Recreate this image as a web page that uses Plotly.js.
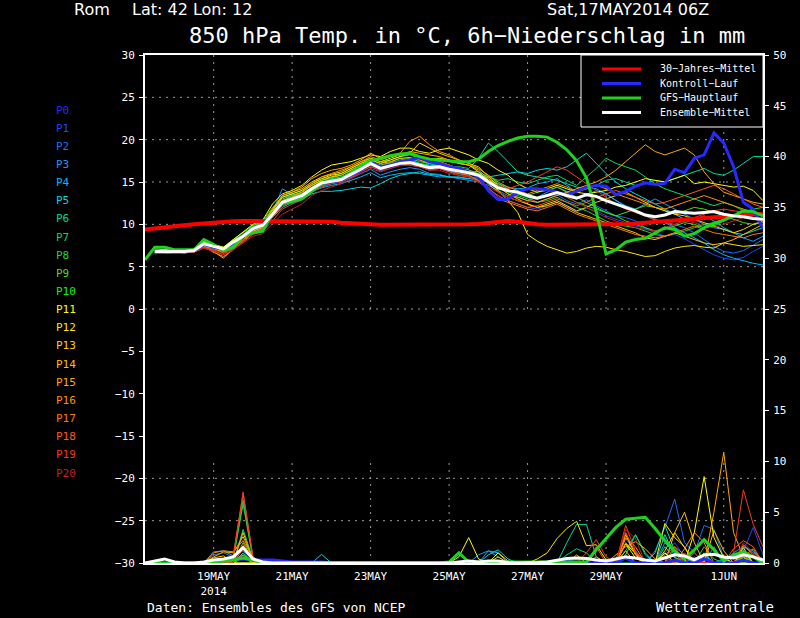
<!DOCTYPE html>
<html><head><meta charset="utf-8">
<script src="https://cdn.plot.ly/plotly-3.0.1.min.js"></script>
<style>html,body{margin:0;padding:0;background:#000;}#chart{width:800px;height:618px;}</style>
</head><body><div id="chart"></div>
<script>
// ---------- time axis: 6-hourly from 17 MAY 2014 06Z to 2 JUN 2014 00Z ----------
const nSteps = 64;
const times = [];
for (let i = 0; i < nSteps; i++) {
  const d = new Date(Date.UTC(2014, 4, 17, 6 + 6 * i));
  times.push(d.toISOString().slice(0, 19).replace('T', ' '));
}
const tickVals = ['2014-05-19','2014-05-21','2014-05-23','2014-05-25','2014-05-27','2014-05-29','2014-06-01'];
const tickText = ['19MAY<br>2014','21MAY','23MAY','25MAY','27MAY','29MAY','1JUN'];

// ---------- member names / colours ----------
const memberNames = ['P0','P1','P2','P3','P4','P5','P6','P7','P8','P9','P10','P11','P12','P13','P14','P15','P16','P17','P18','P19','P20'];
const memberColors = ['#2828ff','#1e46ff','#1e6eff','#1e96ff','#00b9ff','#00d7e1','#00dc96','#00dc64','#28d232','#50dc1e','#14f014','#ffff00','#ffe600','#ffd200','#ffbe00','#ffaa00','#ff9100','#ff7800','#ff5a1e','#f03c1e','#c81e1e'];

// ---------- 850 hPa temperature (°C) ----------
const tempClim = [9.4,9.55,9.7,9.8,9.9,10.0,10.1,10.25, 10.3,10.35,10.4,10.4,10.4,10.4,10.4,10.4, 10.4,10.4,10.35,10.3,10.2,10.1,10.05,10.0, 9.95,9.95,9.9,9.9,9.9,9.9,9.95,9.95, 10.0,10.0,10.05,10.2,10.35,10.4,10.3,10.1, 10.0,9.95,9.95,9.95,9.95,9.95,10.0,10.0, 10.0,10.05,10.1,10.2,10.3,10.45,10.55,10.65, 10.7,10.75,10.85,10.9,11.0,11.1,11.2,11.25];
const tempMean = [null,6.8,6.8,6.8,6.8,6.9,7.7,7.4, 7.1,7.9,8.6,9.5,9.9,11.2,12.6,13.0, 13.4,14.2,14.9,15.1,15.3,15.9,16.5,17.2, 16.6,16.9,17.2,17.3,17.0,16.7,16.8,16.5, 16.3,16.1,15.8,15.0,14.3,14.0,13.8,13.4, 13.1,13.4,13.75,13.4,13.1,13.5,13.3,12.8, 12.4,12.0,11.6,11.1,10.9,11.1,11.5,11.4, 11.3,11.4,11.5,11.2,11.0,10.9,10.7,10.6];
const tempGFS = [5.8,7.3,7.3,7.0,7.0,7.0,8.2,7.6, 6.9,7.3,8.6,9.0,9.2,11.3,12.5,12.7, 13.0,13.9,14.8,15.1,15.3,16.1,16.9,17.5, 17.8,18.1,18.3,18.4,18.0,17.7,17.6,17.5, 17.4,17.4,17.7,18.6,19.3,19.8,20.2,20.4, 20.4,20.3,19.7,18.8,17.5,15.5,11.5,6.5, 7.0,7.9,8.2,8.35,9.0,9.6,9.4,8.6, 8.9,9.6,10.1,10.5,11.0,11.6,11.5,11.0];
const tempControl = [null,6.7,6.8,6.7,6.8,6.9,7.6,7.3, 7.0,7.8,8.6,9.5,9.9,11.2,12.6,13.0, 13.3,14.2,14.8,15.0,15.2,15.8,16.4,17.4, 16.8,17.0,17.4,17.6,17.9,17.4,17.2,16.8, 16.6,16.2,15.6,14.0,12.9,13.0,13.8,14.2, 14.2,14.1,13.8,13.5,13.9,14.4,14.6,14.5, 13.5,13.9,14.5,14.9,14.7,14.85,16.5,16.1, 17.8,18.2,20.8,19.6,16.8,12.6,11.8,9.5];
const tempP1 = [null,6.6,6.7,6.7,6.6,6.8,7.5,7.2, 6.6,7.6,8.4,9.4,9.8,11.0,12.3,12.8, 13.2,13.8,14.6,14.9,15.1,15.6,16.2,16.8, 16.3,16.6,17.0,17.4,17.6,17.0,16.6,16.2, 16.0,15.7,15.2,14.4,13.2,12.8,12.4,12.0, 11.8,12.2,12.6,12.1,11.5,11.9,11.6,11.0, 10.6,10.2,9.8,9.5,9.0,8.6,8.8,8.3, 7.6,7.0,6.4,6.0,5.8,6.1,6.8,7.4];
const tempP2 = [null,6.9,6.7,6.8,6.9,7.0,7.8,7.3, 7.0,8.0,8.8,9.6,10.1,11.6,13.2,13.4, 13.6,14.4,15.0,15.3,15.2,15.8,16.4,17.0, 16.4,16.8,17.1,17.0,16.8,16.4,16.6,16.3, 16.0,15.9,15.6,14.8,14.2,14.0,13.6,13.2, 12.6,13.0,13.5,12.8,12.4,12.9,12.2,11.6, 11.0,10.8,10.4,9.6,9.2,9.5,10.0,9.6, 9.0,8.2,7.4,6.8,6.6,6.9,7.6,8.2];
const tempP3 = [null,6.5,6.7,6.9,6.8,6.7,7.4,7.0, 6.9,7.8,8.5,9.3,9.7,11.5,14.2,13.5, 13.6,14.0,14.5,14.8,15.0,15.5,16.0,16.5, 15.8,16.2,16.5,16.7,16.5,16.0,15.9,15.6, 15.4,15.2,15.0,14.6,14.0,13.4,13.2,12.8, 13.2,13.8,14.4,13.9,13.0,13.4,14.0,13.6, 12.8,12.2,11.8,12.4,13.0,12.4,11.8,11.2, 10.6,10.0,9.6,9.4,9.0,8.4,8.0,8.6];
const tempP4 = [null,6.7,6.8,6.7,6.8,6.8,7.6,7.4, 7.2,7.9,8.6,9.4,9.8,11.0,12.4,13.0, 13.3,13.9,14.3,14.6,14.8,15.2,15.6,16.1, 15.5,15.8,16.0,16.1,16.0,15.8,15.6,15.6, 15.5,15.4,15.2,15.0,14.8,14.4,14.2,14.3, 14.8,15.0,15.4,14.6,13.8,14.4,14.2,13.6, 12.8,12.1,11.4,11.0,10.5,10.2,9.6,9.0, 8.4,7.8,7.0,6.4,6.0,5.7,5.4,5.2];
const tempP5 = [null,6.8,6.6,6.7,6.8,6.9,7.5,7.3, 7.0,7.7,8.4,9.2,9.6,10.8,12.0,12.6, 13.0,13.6,13.9,13.9,14.0,14.2,14.4,14.3, 14.8,15.4,15.8,16.0,16.2,15.9,15.8,15.6, 15.6,15.4,15.5,15.6,15.8,16.0,16.2,16.0, 16.4,16.6,16.4,16.8,17.6,18.4,17.2,16.0, 15.0,14.2,13.6,13.0,12.4,11.8,11.2,10.6, 10.6,11.0,10.4,9.6,9.0,8.8,9.2,9.6];
const tempP6 = [null,7.0,6.9,6.9,7.0,7.0,8.0,7.6, 7.3,8.2,9.0,9.9,10.2,11.8,12.8,13.4, 13.8,14.6,15.2,15.4,15.6,16.2,16.8,17.4, 17.0,17.3,17.8,17.6,17.2,17.0,17.2,16.8, 16.8,16.6,17.8,19.6,18.6,17.4,16.2,15.8, 15.6,15.4,15.2,14.8,14.4,14.2,14.6,15.2, 15.4,15.0,14.6,14.8,15.2,15.0,15.4,15.8, 16.2,16.6,16.0,15.8,16.4,17.2,18.0,18.0];
const tempP7 = [null,6.7,6.8,6.8,6.7,6.9,7.9,7.5, 7.1,7.8,8.7,9.6,10.0,11.4,12.8,13.2, 13.6,14.4,15.0,15.3,15.6,16.0,16.6,17.2, 16.8,17.0,17.4,17.6,17.2,16.9,17.0,16.7, 16.5,16.3,16.2,15.6,15.2,15.4,15.0,14.8, 15.2,15.6,15.8,15.2,14.6,15.6,16.6,17.8, 17.2,16.8,16.4,15.6,14.8,14.2,13.8,13.4, 13.0,12.6,12.2,12.6,12.2,11.6,11.2,11.0];
const tempP8 = [null,6.9,6.8,6.7,6.8,6.9,7.8,7.4, 7.0,8.0,8.6,9.5,9.8,11.2,12.6,13.0, 13.4,14.2,14.9,15.2,15.4,15.8,16.4,17.0, 16.6,17.0,17.2,17.4,17.0,16.8,16.9,16.6, 16.4,16.2,15.8,15.0,14.4,13.8,13.4,13.0, 12.6,12.8,13.2,12.6,12.0,11.6,11.0,10.4, 10.0,9.8,9.6,9.2,8.8,8.6,8.9,9.2, 9.6,10.0,10.2,10.6,10.8,11.0,11.2,11.0];
const tempP9 = [null,6.8,6.9,6.8,6.8,7.0,7.9,7.5, 7.2,8.1,8.8,9.7,10.1,11.6,13.0,13.4, 13.8,14.6,15.2,15.5,15.8,16.4,17.0,17.4, 17.0,17.2,17.6,17.8,17.4,17.2,17.4,17.0, 16.6,16.4,16.0,15.4,14.6,14.0,13.6,13.4, 13.8,14.0,14.4,13.8,13.2,12.6,12.0,11.4, 11.0,11.4,11.8,12.2,12.0,11.6,11.2,11.6, 12.0,11.8,11.4,11.0,10.6,10.2,10.0,10.2];
const tempP10 = [null,7.1,7.0,6.9,6.9,7.0,8.1,7.6, 7.2,8.2,9.0,9.8,10.4,12.0,13.2,13.6, 14.0,14.8,15.4,15.6,16.0,16.6,17.2,17.8, 17.4,17.6,18.0,18.2,17.8,17.6,17.8,17.4, 17.2,17.0,16.6,15.8,14.8,14.2,13.6,13.2, 13.0,13.4,13.8,13.2,12.6,12.2,11.8,11.4, 11.0,10.4,10.0,9.6,9.2,9.4,9.8,10.2, 10.0,9.6,9.8,10.4,11.0,11.4,11.8,12.0];
const tempP11 = [null,6.9,7.0,7.0,6.9,7.1,8.0,7.6, 7.3,8.2,9.1,10.0,10.5,12.4,13.6,14.0, 14.6,15.6,16.4,17.0,17.2,17.4,17.8,18.2, 18.0,18.6,19.0,19.0,18.6,18.4,18.8,19.0, 18.6,18.2,17.6,17.2,16.4,15.8,14.8,14.2, 13.8,14.2,14.6,14.2,13.8,13.6,13.8,14.0, 14.4,14.6,15.0,15.4,15.2,15.0,15.4,15.8, 14.8,15.0,14.8,14.6,14.4,14.5,14.0,12.8];
const tempP12 = [null,6.7,6.6,6.7,6.8,6.8,7.4,7.2, 6.8,7.6,8.4,9.4,9.9,11.6,13.2,13.6, 14.0,14.8,15.4,15.8,16.0,16.6,17.2,17.6, 17.2,17.6,18.0,18.4,18.0,17.6,17.8,17.6, 17.2,17.0,16.2,15.2,14.0,12.8,11.4,8.8, 8.0,7.4,7.0,6.6,6.8,7.2,7.4,7.3, 7.0,6.8,6.5,6.2,6.3,6.8,7.2,7.4, 7.5,7.3,7.2,7.8,7.6,7.4,7.5,7.6];
const tempP13 = [null,6.8,6.8,6.8,6.7,6.9,7.6,7.4, 7.0,7.8,8.7,9.6,10.0,11.8,13.4,13.8, 14.2,15.0,15.6,15.9,16.2,16.8,17.4,17.8, 17.4,17.8,18.2,18.4,19.6,19.0,18.4,18.0, 17.6,17.2,16.8,15.6,14.6,13.6,13.0,12.4, 12.0,12.4,12.8,12.2,11.6,12.0,12.6,13.0, 13.4,13.8,13.2,12.6,12.0,11.6,11.2,11.0, 10.6,10.2,9.8,9.4,9.0,9.4,10.0,10.4];
const tempP14 = [null,6.7,6.6,6.6,6.7,6.8,7.4,6.8, 6.0,7.2,8.2,9.2,9.6,11.2,12.8,13.2, 13.8,14.6,15.2,15.6,15.8,16.4,17.0,17.6, 17.2,17.4,17.8,17.9,17.6,17.2,17.4,17.0, 16.6,16.4,15.8,14.8,13.8,13.2,12.8,12.4, 12.0,12.2,12.6,12.0,11.4,11.0,10.6,10.2, 9.8,9.4,9.0,8.4,8.2,8.6,9.0,8.6, 8.2,7.8,7.6,7.8,8.2,8.8,9.4,10.0];
const tempP15 = [null,6.8,6.8,6.9,6.9,7.0,7.6,7.2, 6.6,7.4,8.5,9.6,10.1,11.8,13.4,13.8, 14.4,15.4,16.0,16.4,16.6,17.0,17.6,18.4, 17.8,18.0,18.2,18.6,18.4,18.2,18.0,17.6, 17.2,17.0,16.4,15.4,14.4,13.6,13.2,12.8, 12.6,13.0,13.4,13.8,14.2,14.6,15.0,15.6, 16.4,17.4,18.4,19.4,18.6,18.2,18.6,19.0, 18.2,16.2,14.8,13.8,13.4,13.0,12.6,12.4];
const tempP16 = [null,6.6,6.7,6.7,6.6,6.8,7.3,6.7, 6.2,7.0,8.0,9.0,9.5,11.2,12.6,13.2, 13.8,14.8,15.6,16.0,16.4,16.8,17.4,18.0, 17.6,18.0,18.4,19.8,20.4,19.4,18.6,18.2, 17.6,17.2,16.6,15.8,15.0,14.4,14.0,13.6, 14.0,14.4,14.8,14.4,13.8,14.2,14.6,14.2, 13.6,13.2,12.8,12.4,12.0,11.8,12.2,12.6, 13.0,13.4,13.0,12.6,12.2,11.8,11.4,11.2];
const tempP17 = [null,6.8,6.7,6.8,6.8,6.9,7.6,7.2, 6.9,7.6,8.4,9.3,9.8,11.0,12.4,12.9, 13.4,14.2,14.8,15.2,15.4,16.0,16.6,17.2, 16.8,17.2,17.4,17.2,17.0,16.6,16.8,16.4, 16.0,15.8,15.2,14.0,13.0,12.6,12.2,11.8, 11.6,12.0,12.4,11.8,11.2,10.8,10.4,10.0, 9.6,9.2,8.8,8.6,8.4,8.6,9.0,9.4, 9.8,9.4,9.0,8.8,8.6,8.4,8.8,9.0];
const tempP18 = [null,6.6,6.6,6.6,6.7,6.7,7.2,6.9, 6.4,7.3,8.1,9.0,9.5,10.8,12.2,12.7, 13.2,14.0,14.6,15.0,15.2,15.8,16.4,17.0, 16.6,17.0,17.2,17.0,16.8,16.4,16.6,16.2, 15.8,15.6,15.0,14.2,13.4,12.8,12.4,12.0, 12.2,12.6,13.0,12.6,12.2,12.6,13.2,13.6, 14.0,13.6,13.2,12.8,12.4,12.6,13.0,13.4, 13.8,14.2,14.6,14.2,13.6,13.0,12.4,12.0];
const tempP19 = [null,6.7,6.7,6.7,6.6,6.8,7.3,7.0, 6.6,7.2,7.9,8.8,9.2,10.4,11.8,12.4, 12.9,13.8,14.4,14.8,15.0,15.6,16.2,16.8, 16.4,16.8,17.2,17.6,18.0,17.8,17.4,17.0, 16.6,16.2,15.6,15.0,14.6,14.2,14.6,15.0, 15.6,16.2,16.8,16.4,15.6,14.8,14.0,13.2, 12.4,11.8,11.4,11.0,10.6,10.2,10.0,10.4, 10.8,11.2,11.6,11.8,11.6,11.4,11.2,11.0];
const tempP20 = [null,6.6,6.6,6.7,6.7,6.8,7.2,6.8, 6.4,7.0,7.8,8.6,8.9,10.0,11.2,11.8, 12.4,13.4,14.0,14.4,14.8,15.4,16.0,16.6, 16.2,16.6,16.9,17.0,16.8,16.4,16.4,16.0, 15.8,15.6,15.0,14.4,13.8,13.2,12.8,12.6, 13.0,13.4,13.8,13.2,12.6,12.0,11.4,10.8, 10.4,10.0,9.6,9.4,9.2,9.6,10.0,10.4, 10.2,9.8,9.6,10.0,10.4,10.8,10.6,10.4];

// ---------- 6h precipitation (mm) ----------
const precMean = [0,0.2,0.4,0.1,0,0,0.1,0.3, 0.4,0.6,1.5,0.4,0.1,0,0,0, 0,0,0.05,0,0,0,0,0, 0,0,0,0,0,0,0,0, 0.1,0.2,0.1,0.2,0.2,0.05,0,0, 0.05,0.1,0.3,0.45,0.5,0.45,0.3,0.2, 0.4,0.6,0.5,0.3,0.2,0.5,0.8,0.7, 0.3,0.8,0.85,0.6,0.5,0.8,0.6,0.3];
const precGFS = [0,0,0,0,0,0,0,0, 0.2,0.3,0.5,0.3,0,0,0,0, 0,0,0,0,0,0,0,0, 0,0,0,0,0,0,0,0.1, 1.0,0.1,0.1,0.1,0.1,0.1,0.1,0.1, 0.1,0.1,0.1,0.1,0.1,0.1,1.3,2.4, 3.5,4.3,4.4,4.5,3.4,2.2,1.2,0.4, 1.3,2.3,1.3,0.2,0.8,1.1,0.6,0];
const precControl = [0,0,0,0,0,0,0,0, 0.3,0.3,0.4,0.3,0.3,0.3,0.2,0.1, 0.1,0.1,0.1,0,0,0,0,0, 0,0,0,0,0,0,0,0, 0,0,0,0,0,0,0,0, 0,0,0,0.3,0,0,0,0, 0,0.5,0,0,0,0,0.3,0, 0,0.4,0,0,0,0.3,0,0];
const precP1 = [0,0,0,0,0,0,0,0, 0,0.4,0.8,0.2,0,0,0,0, 0,0,0,0,0,0,0,0, 0,0,0,0,0,0,0,0, 0,0,0,0,0,0,0,0, 0,0,0,0.3,0,0,0,0, 0,0.8,0,0,0,1.0,2.0,0.6, 0,0,0,0,0,1.2,3.5,0.8];
const precP2 = [0,0,0,0,0,0,0,0.8, 1.0,0.6,1.2,0,0,0,0,0, 0,0,0,0,0,0,0,0, 0,0,0,0,0,0,0,0, 0,0,0,0,0,0,0,0, 0,0,0,0,0,0,0,0, 0,0.6,0,0,1.2,3.5,6.3,2.0, 1.0,3.7,3.3,0.5,0,0.8,0,0];
const precP3 = [0,0,0,0,0,0,0,1.1, 1.2,0.7,1.6,0.3,0,0,0,0, 0,0,0,0,0,0,0,0, 0,0,0,0,0,0,0,0, 0,0,0.8,1.2,0.6,0,0,0, 0,0,0,0,0,0,0,0, 0.4,2.4,1.2,0,0,2.0,1.0,0, 0.6,0,1.6,0,1.0,1.6,1.0,0.4];
const precP4 = [0,0,0,0,0,0,0,0, 0,0,0.6,0,0,0,0,0, 0,0,0,0,0,0,0,0, 0,0,0,0,0,0,0,0, 0,0,0,1.2,1.0,0,0,0, 0,0,0,0,0,0,0,0, 0,0.6,0,0,0,1.0,0,0.6, 0,0.8,0,0.4,0,1.6,1.2,0];
const precP5 = [0,0,0,0,0,0,0,0, 0,0,0.5,0,0,0,0,0, 0,0,0.85,0,0,0,0,0, 0,0,0,0,0,0,0,0, 0,0.2,0,0.8,1.3,0.4,0,0, 0,0,0,0,0,0,0,0, 0,0.8,2.75,1.0,0,2.8,0.6,0, 0,0,0,0,0,1.2,0,0];
const precP6 = [0,0,0,0,0,0,0,0, 0,0,3.3,0.4,0,0,0,0, 0,0,0,0,0,0,0,0, 0,0,0,0,0,0,0,0, 0,0,0,0,0,0,0,0, 0,0,0,2.0,3.8,3.8,0.6,0, 0,0,0,0,1.0,3.7,1.2,0, 0,1.0,0,0,0,0,0,0];
const precP7 = [0,0,0,0,0,0,0,0, 0,0.5,6.2,0.5,0,0,0,0, 0,0,0,0,0,0,0,0, 0,0,0,0,0,0,0,0, 0,0,0,0,0,0,0,0, 0,0,0,0.8,1.4,1.0,0,0, 0,1.2,2.8,0.8,0,0,0,0, 0,1.6,0.4,0,0,0,0,0];
const precP8 = [0,0,0,0,0,0,0,0, 0,0.4,5.8,0.4,0,0,0,0, 0,0,0,0,0,0,0,0, 0,0,0,0,0,0,0,0, 0,0,0,0,0,0,0,0, 0,0,0,0,0,0,0,0.4, 0,0.8,0,0,0,0.6,0,0, 0,0.6,0,0,0,0.8,0,0];
const precP9 = [0,0,0,0,0,0,0,0, 0,0,2.0,0.3,0,0,0,0, 0,0,0,0,0,0,0,0, 0,0,0,0,0,0,0,0, 0,0,0,0,0,0,0,0, 0,0,0,0,0,0,0,0, 0.3,0.6,0,0,0,0,0,0.8, 0,0,0,0,0,0.5,0,0];
const precP10 = [0,0,0,0,0,0,0,0, 0,0,1.0,0,0,0,0,0, 0,0,0,0,0,0,0,0, 0,0,0,0,0,0,0,0, 0,0,0,0,0,0,0,0, 0,0,0,0,0,0,0,0, 0,0.5,0,0,0,1.6,0.5,0, 0,0,0,0,0,1.0,0,0];
const precP11 = [0,0,0,0,0,0,0,0, 0,0,0,0,0,0,0,0, 0,0,0,0,0,0,0,0, 0,0,0,0,0,0,0,0, 0.6,2.5,0.4,0,1.0,0.2,0,0, 0,0,0,0,0,0,0,0, 0,1.9,0.5,0,0,1.0,0,0, 3.0,8.5,2.5,0.5,0,1.5,0,0];
const precP12 = [0,0,0,0,0,0,0,0, 0,0,0,0,0,0,0,0, 0,0,0,0,0,0,0,0, 0,0,0,0,0,0,0,0, 0,0,0,0,0,0,0,0, 0.4,1.0,2.4,3.4,4.1,1.7,1.8,0.3, 0,2.8,0.8,0,0,3.9,2.5,1.6, 0,0,0,0,0,0,0,0];
const precP13 = [0,0,0,0,0,0,0,0, 0,0,0.8,0,0,0,0,0, 0,0,0,0,0,0,0,0, 0,0,0,0,0,0,0,0, 0,0,0,0,0.6,0,0,0, 0,0,0,0,0,0,0,0, 0,1.9,1.0,0,0,1.2,3.0,1.5, 0,0,0,0,0,1.2,0,0];
const precP14 = [0,0,0,0,0,0,0,0.5, 0.7,0,3.0,0.3,0,0,0,0, 0,0,0,0,0,0,0,0, 0,0,0,0,0,0,0,0, 0,0,0,0,0,0,0,0, 0,0,0,0,0.8,0,0,0, 0,1.2,0,0,0,0,3.0,5.0, 2.0,0,3.2,1.2,0,0.6,0,0];
const precP15 = [0,0,0,0,0,0,0,0.6, 1.1,1.0,2.6,0.4,0,0,0,0, 0,0,0,0,0,0,0,0, 0,0,0,0,0,0,0,0, 0,0,0,0,0,0,0,0, 0,0,0,0,0,0,0,0, 0.8,1.6,2.1,1.4,0.4,0,0,0, 0,0,5.0,10.9,3.0,0.6,0,0];
const precP16 = [0,0,0,0,0,0,0,1.0, 1.2,1.1,2.2,0.5,0,0,0,0, 0,0,0,0,0,0,0,0, 0,0,0,0,0,0,0,0, 0,0,0,0,0,0,0,0, 0,0,0,0,0,0,0.6,0, 0,2.5,1.6,0,0,0,0,1.4, 3.0,2.0,0,0,0,1.8,0.8,0];
const precP17 = [0,0,0,0,0,0,0,0, 0,0,1.4,0.3,0,0,0,0, 0,0,0,0,0,0,0,0, 0,0,0,0,0,0,0,0, 0,0,0,0,0,0,0,0, 0,0,0,0,0,0,0,0, 0,2.0,1.0,0,0,0.8,1.6,0.8, 0,0,0,0,0,0.6,1.4,0];
const precP18 = [0,0,0,0,0,0,0,0, 0,0.8,6.8,0.6,0,0,0,0, 0,0,0,0,0,0,0,0, 0,0,0,0,0,0,0,0, 0,0,0,0,0,0,0,0, 0,0,0,0,0,0,1.6,0, 0,3.0,1.0,0,0,0,1.6,0, 1.0,0,0,0,1.4,2.2,1.6,0];
const precP19 = [0,0,0,0,0,0,0,0, 0,0.6,7.0,0.6,0,0,0,0, 0,0,0,0,0,0,0,0, 0,0,0,0,0,0,0,0, 0,0,0,0,0,0,0,0, 0,0,0,0,0,1.0,2.3,0.6, 0,3.7,1.2,0,0,0,0,1.0, 0,0,0,0,1.0,7.2,3.8,1.6];
const precP20 = [0,0,0,0,0,0,0,0, 0,0,1.8,0.3,0,0,0,0, 0,0,0,0,0,0,0,0, 0,0,0,0,0,0,0,0, 0,0,0,0,0,0,0,0, 0,0,0,0,0,0,0,0, 0,3.3,2.4,0,0,0,1.0,0, 0,0,0,0,0,2.0,1.0,0];

const memberTemps = [tempP1,tempP2,tempP3,tempP4,tempP5,tempP6,tempP7,tempP8,tempP9,tempP10,tempP11,tempP12,tempP13,tempP14,tempP15,tempP16,tempP17,tempP18,tempP19,tempP20];
const memberPrecs = [precP1,precP2,precP3,precP4,precP5,precP6,precP7,precP8,precP9,precP10,precP11,precP12,precP13,precP14,precP15,precP16,precP17,precP18,precP19,precP20];

const legendLabels = ['30\u2212Jahres\u2212Mittel','Kontroll\u2212Lauf','GFS\u2212Hauptlauf','Ensemble\u2212Mittel'];
const legendColors = ['#ff0000','#2828ff','#1ed21e','#ffffff'];
const cRed = '#ff0000', cCtl = '#2828ff', cGFS = '#1ed21e', cMean = '#ffffff';

// ---------- traces ----------
const traces = [];
memberTemps.forEach((arr, i) => {
  traces.push({x: times, y: arr, type: 'scatter', mode: 'lines', yaxis: 'y',
    line: {color: memberColors[i + 1], width: 1}, hoverinfo: 'skip'});
});
memberPrecs.forEach((arr, i) => {
  traces.push({x: times, y: arr, type: 'scatter', mode: 'lines', yaxis: 'y2',
    line: {color: memberColors[i + 1], width: 1}, hoverinfo: 'skip'});
});
traces.push({x: times, y: tempClim, mode: 'lines', yaxis: 'y', line: {color: cRed, width: 4}});
traces.push({x: times, y: tempControl, mode: 'lines', yaxis: 'y', line: {color: cCtl, width: 3}});
traces.push({x: times, y: precControl, mode: 'lines', yaxis: 'y2', line: {color: cCtl, width: 3}});
traces.push({x: times, y: tempGFS, mode: 'lines', yaxis: 'y', line: {color: cGFS, width: 3}});
traces.push({x: times, y: precGFS, mode: 'lines', yaxis: 'y2', line: {color: cGFS, width: 3}});
traces.push({x: times, y: tempMean, mode: 'lines', yaxis: 'y', line: {color: cMean, width: 3}});
traces.push({x: times, y: precMean, mode: 'lines', yaxis: 'y2', line: {color: cMean, width: 3}});

// ---------- layout helpers (pixel -> paper) ----------
const L = 145, R = 763, T = 55, B = 563;
const PX = x => (x - L) / (R - L);
const PY = y => (B - y) / (B - T);
const mono = 'DejaVu Sans Mono, monospace';
const sans = 'DejaVu Sans, sans-serif';

const shapes = [];
const gridStyle = {color: '#9a9a9a', width: 1, dash: '2px,5px'};
[25, 20, 15, 10, 5, 0, -20, -25].forEach(v => {
  shapes.push({type: 'line', xref: 'paper', yref: 'y', x0: 0, x1: 1, y0: v, y1: v, line: gridStyle, layer: 'below'});
});
tickVals.forEach(tv => {
  shapes.push({type: 'line', xref: 'x', yref: 'y', x0: tv, x1: tv, y0: 0, y1: 30, line: gridStyle, layer: 'below'});
  shapes.push({type: 'line', xref: 'x', yref: 'y', x0: tv, x1: tv, y0: -30, y1: -18, line: gridStyle, layer: 'below'});
});
// legend box
shapes.push({type: 'rect', xref: 'paper', yref: 'paper', x0: PX(581), x1: PX(763), y0: PY(127), y1: PY(55),
  fillcolor: '#000', line: {color: '#fff', width: 1}, layer: 'above'});
const legendRows = [69, 83.5, 98, 112.5];
legendRows.forEach((yy, i) => {
  shapes.push({type: 'line', xref: 'paper', yref: 'paper', x0: PX(602), x1: PX(641), y0: PY(yy), y1: PY(yy),
    line: {color: legendColors[i], width: 3}, layer: 'above'});
});

const annotations = [];
const ann = (text, x, y, font, xanchor) => annotations.push({text, x: PX(x), y: PY(y), xref: 'paper', yref: 'paper',
  showarrow: false, xanchor: xanchor || 'left', yanchor: 'middle', font, borderpad: 0});
ann('Rom', 73, 10, {family: sans, size: 16, color: '#fff'});
ann('Lat: 42 Lon: 12', 131, 10, {family: sans, size: 16, color: '#fff'});
ann('Sat,17MAY2014 06Z', 546, 10, {family: sans, size: 16, color: '#fff'});
ann('850 hPa Temp. in \u00b0C, 6h\u2212Niederschlag in mm', 467, 35, {family: mono, size: 22, color: '#fff'}, 'center');
ann('Daten: Ensembles des GFS von NCEP', 146, 607, {family: mono, size: 13, color: '#fff'});
ann('Wetterzentrale', 655, 607, {family: mono, size: 14, color: '#fff'});
memberNames.forEach((nm, i) => ann(nm, 55, 110 + 18.15 * i, {family: mono, size: 11, color: memberColors[i]}));
legendLabels.forEach((lb, i) => ann(lb, 659, legendRows[i], {family: mono, size: 10, color: '#fff'}));

const layout = {
  width: 800, height: 618,
  margin: {l: L, r: 800 - R, t: T, b: 618 - B, pad: 0},
  paper_bgcolor: '#000', plot_bgcolor: '#000', showlegend: false,
  font: {family: mono, color: '#fff', size: 11},
  xaxis: {type: 'date', range: [times[0], times[nSteps - 1]], tickvals: tickVals, ticktext: tickText,
    showgrid: false, zeroline: false, showline: true, linecolor: '#fff', linewidth: 2, mirror: true,
    ticks: '', tickfont: {family: mono, size: 11, color: '#fff'}, ticklabelstandoff: 2, fixedrange: true},
  yaxis: {range: [-30, 30], tick0: 0, dtick: 5, showgrid: false, zeroline: false, showline: true,
    linecolor: '#fff', linewidth: 2, ticks: 'outside', ticklen: 4, tickwidth: 1, tickcolor: '#fff',
    tickfont: {family: mono, size: 11, color: '#fff'}, ticklabelstandoff: 2},
  yaxis2: {range: [0, 50], tick0: 0, dtick: 5, overlaying: 'y', side: 'right', showgrid: false, zeroline: false,
    showline: true, linecolor: '#fff', linewidth: 2, ticks: 'outside', ticklen: 4, tickwidth: 1, tickcolor: '#fff',
    tickfont: {family: mono, size: 11, color: '#fff'}, ticklabelstandoff: 2},
  shapes, annotations
};

Plotly.newPlot('chart', traces, layout, {staticPlot: true, displayModeBar: false});
</script>
</body></html>
